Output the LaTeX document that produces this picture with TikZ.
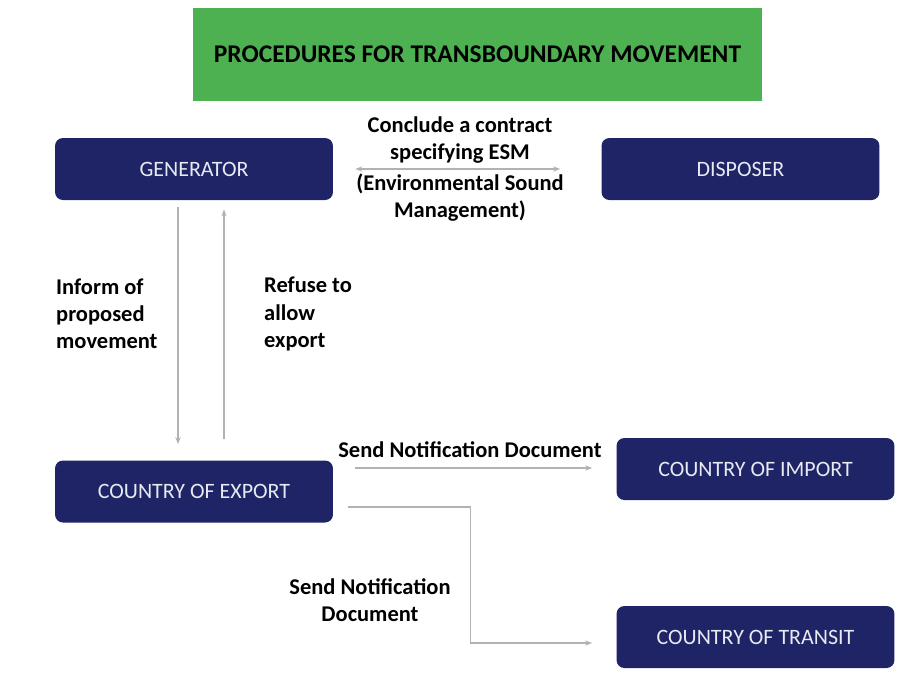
\documentclass[tikz,border=0pt]{standalone}
\usepackage{fontspec}
\setmainfont{Carlito}
\usetikzlibrary{arrows.meta,positioning}
\definecolor{navybox}{HTML}{1E2466}
\definecolor{titlegreen}{HTML}{4DB151}
\definecolor{boxtext}{HTML}{E8EAF2}
\tikzset{
  party/.style={fill=navybox, rounded corners=4.5pt, text=boxtext,
    minimum width=5.56cm, minimum height=1.24cm, font=\fontsize{12.5}{14}\selectfont},
  conn/.style={draw=black!30, line width=0.7pt, -{Stealth[length=4pt,width=3pt]}},
  lbl/.style={font=\bfseries\fontsize{12.8}{15.5}\selectfont, align=center}
}
\begin{document}
\begin{tikzpicture}[x=0.02cm, y=-0.02cm]
  \useasboundingbox (0,0) rectangle (907,677);
  % title
  \node[fill=titlegreen, minimum width=11.38cm, minimum height=1.86cm,
    font=\bfseries\fontsize{14.5}{16}\selectfont] (title) at (477.5,54.5)
    {PROCEDURES FOR TRANSBOUNDARY MOVEMENT};
  % parties
  \node[party] (gen) at (194,169) {GENERATOR};
  \node[party] (disp) at (740.5,169) {DISPOSER};
  \node[party] (exp) at (194,491.5) {COUNTRY OF EXPORT};
  \node[party] (imp) at (755.5,469) {COUNTRY OF IMPORT};
  \node[party] (tra) at (755.5,637) {COUNTRY OF TRANSIT};
  % connectors
  \draw[conn, {Stealth[length=4pt,width=3pt]}-{Stealth[length=4pt,width=3pt]},
    shorten <=0.44cm, shorten >=0.82cm] (gen) -- (disp);
  \draw[conn, shorten <=0.14cm, shorten >=0.32cm]
    ([xshift=-0.32cm]gen.south) -- ([xshift=-0.32cm]exp.north);
  \draw[conn, shorten <=0.42cm, shorten >=0.18cm]
    ([xshift=0.6cm]exp.north) -- ([xshift=0.6cm]gen.south);
  \draw[conn, shorten <=0.44cm, shorten >=0.48cm]
    ([yshift=0.47cm]exp.east) -- ([yshift=0.47cm]exp.east -| imp.west);
  \draw[conn, shorten <=0.3cm, shorten >=0.48cm]
    ([yshift=-0.31cm]exp.east) -- ++(137,0) |- ([yshift=-0.12cm]tra.west);
  % labels
  \node[lbl] (esm) at (460,169) {Conclude a contract\\specifying ESM\\[2pt](Environmental Sound\\Management)};
  \node[lbl, align=left, anchor=west] (inform) at (50,314) {Inform of\\proposed\\movement};
  \node[lbl, align=left, anchor=west] (refuse) at (258,314) {Refuse to\\allow\\export};
  \node[lbl] (sendimp) at (470,450) {Send Notification Document};
  \node[lbl] (sendtra) at (370,600) {Send Notification\\Document};
\end{tikzpicture}
\end{document}
